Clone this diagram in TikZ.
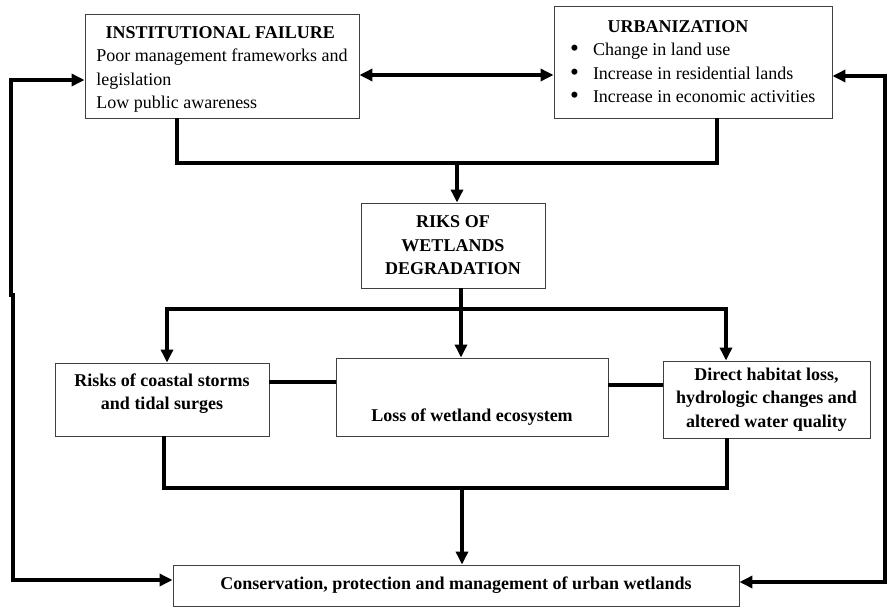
\documentclass[tikz,border=0pt]{standalone}
\usepackage{fontspec}
\setmainfont{Liberation Serif}
\usetikzlibrary{arrows.meta}
\newcommand{\bul}{\makebox[25pt][l]{\hspace{2pt}\raisebox{-1pt}{\scalebox{1.4}{\textbullet}}}}
\begin{document}
\begin{tikzpicture}[x=1pt,y=-1pt,
  box/.style={draw=black!75, line width=0.9pt, inner sep=0pt,
    font=\fontsize{18}{23.5}\selectfont},
  boxb/.style={box, font=\fontsize{18}{23.5}\selectfont\bfseries, align=center},
  conn/.style={line width=4pt, line join=miter},
  arr/.style={conn, -{Triangle[length=13pt,width=12pt]}},
  arrs/.style={conn, {Triangle[length=13pt,width=12pt]}-{Triangle[length=13pt,width=12pt]}},
]
\useasboundingbox (0,0) rectangle (887,608);

% boxes
\node[box, minimum width=274pt, minimum height=104pt, align=left] (inst) at (222,66)
  {\rule{0pt}{19pt}\makebox[248pt]{\textbf{INSTITUTIONAL FAILURE}}\\
   Poor management frameworks and\\
   legislation\\
   Low public awareness};
\node[box, minimum width=278pt, minimum height=112pt, align=left] (urban) at (693,62)
  {\makebox[250pt]{\textbf{URBANIZATION}\hspace{30pt}}\\
   \bul Change in land use\\
   \bul Increase in residential lands\\
   \bul Increase in economic activities};
\node[boxb, minimum width=184pt, minimum height=85pt] (riks) at (453,245.5)
  {RIKS OF\\WETLANDS\\DEGRADATION};
\node[boxb, minimum width=214pt, minimum height=73pt] (risks) at (162,399.5)
  {Risks of coastal storms\\and tidal surges\\[-8pt]};
\node[boxb, minimum width=272pt, minimum height=78pt, text height=53pt,
  text depth=5pt] (loss) at (472,397)
  {Loss of wetland ecosystem};
\node[boxb, minimum width=207pt, minimum height=77pt] (direct) at (766.5,399.5)
  {Direct habitat loss,\\hydrologic changes and\\altered water quality};
\node[boxb, minimum width=566pt, minimum height=41pt] (cons) at (456,585.5)
  {Conservation, protection and management of urban wetlands};

% junction coordinates
\coordinate (tl) at (177,163);
\coordinate (tr) at (717,163);
\coordinate (tm) at (457,163);
\coordinate (dy) at (0,75);
\coordinate (la) at (11,80);
\coordinate (lb) at (11,295);
\coordinate (lc) at (13,295);
\coordinate (ld) at (13,580);
\coordinate (ra) at (885,76);
\coordinate (rb) at (885,582);
\coordinate (m1) at (167,309);
\coordinate (m2) at (461,309);
\coordinate (m3) at (726,309);
\coordinate (s1) at (0,382);
\coordinate (s2) at (0,385);
\coordinate (b1) at (164,488);
\coordinate (b2) at (727,488);
\coordinate (b3) at (462,488);

% connectors
\draw[conn] (inst.south -| tl) -- (tl) -- (tr) -- (urban.south -| tr);
\draw[arr] (tm) -- (riks.north -| tm);
\draw[arrs] (inst.east |- dy) -- (urban.west |- dy);
\draw[arrs] (inst.west |- la) -- (la) -- (lb) -- (lc) -- (ld) -- (cons.west |- ld);
\draw[arrs] (urban.east |- ra) -- (ra) -- (rb) -- (cons.east |- rb);
\draw[conn] (riks.south -| m2) -- (m2);
\draw[arr] (m2) -- (loss.north -| m2);
\draw[arr] (m2) -- (m1) -- (risks.north -| m1);
\draw[arr] (m2) -- (m3) -- (direct.north -| m3);
\draw[conn] (risks.east |- s1) -- (loss.west |- s1);
\draw[conn] (loss.east |- s2) -- (direct.west |- s2);
\draw[conn] (risks.south -| b1) -- (b1) -- (b2) -- (direct.south -| b2);
\draw[arr] (b3) -- (cons.north -| b3);
\end{tikzpicture}
\end{document}
